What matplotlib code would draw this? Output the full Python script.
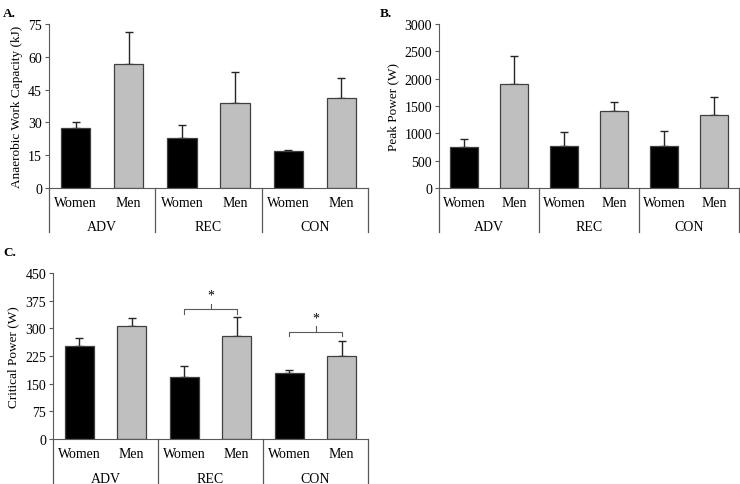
import matplotlib.pyplot as plt
import numpy as np

plt.rcParams['font.family'] = ['Liberation Serif', 'DejaVu Serif']
plt.rcParams['font.size'] = 10

#data
groups = ['ADV', 'REC', 'CON']
sexes = ['Women', 'Men']

awc_mean = [27.3, 56.7, 23.0, 39.1, 16.9, 41.2]
awc_sd = [2.8, 14.5, 5.6, 13.8, 0.6, 9.0]

pp_mean = [755, 1911, 761, 1406, 761, 1333]
pp_sd = [146, 511, 261, 164, 280, 328]

cp_mean = [253, 305, 167, 279, 178, 225]
cp_sd = [20, 22, 32, 52, 10, 42]

#brackets: (left bar, right bar, bracket y, drop, rise)
cp_sig = [(2, 3, 353, 14, 14), (4, 5, 290, 12, 15)]

W, H = 740, 485
fig = plt.figure(figsize=(W / 100, H / 100), dpi=100)


def make_axes(x0, x1, ytop, ybot):
    return fig.add_axes([x0 / W, 1 - ybot / H, (x1 - x0) / W, (ybot - ytop) / H])


def panel(ax, mean, sd, ymax, step, ylabel, letter, sep_len, lpos):
    x = np.arange(len(mean))
    colors = ['black', '#bfbfbf'] * 3
    ax.bar(x, mean, width=0.55, color=colors, edgecolor='#404040', linewidth=0.9, zorder=2)
    ax.errorbar(x, mean, yerr=[np.zeros(len(sd)), sd], fmt='none', ecolor='#262626',
                elinewidth=1, capsize=3, capthick=1, zorder=1)
    ax.set_xlim(-0.5, len(mean) - 0.5)
    ax.set_ylim(0, ymax)
    ax.set_yticks(np.arange(0, ymax + 1, step))
    ax.set_xticks([])
    ax.spines['top'].set_visible(False)
    ax.spines['right'].set_visible(False)
    ax.spines['left'].set_color('#595959')
    ax.spines['bottom'].set_color('#595959')
    ax.tick_params(axis='y', length=3, color='#595959', pad=2)
    ax.set_ylabel(ylabel, labelpad=4, fontsize=9.5)
    # category labels below
    trans = ax.get_xaxis_transform()
    for i in range(len(mean)):
        ax.text(x[i], -0.09, sexes[i % 2], transform=trans, ha='center', va='center')
    for g, name in enumerate(groups):
        ax.text(2 * g + 0.5, -0.235, name, transform=trans, ha='center', va='center')
    for b in [-0.5, 1.5, 3.5, 5.5]:
        ax.plot([b, b], [0, -sep_len], transform=trans, color='#595959', lw=0.9, clip_on=False)
    ax.text(lpos[0], lpos[1], letter, transform=ax.transAxes, fontweight='bold',
            ha='left', va='center', fontsize=9.5)


axA = make_axes(49, 368, 25, 189)
panel(axA, awc_mean, awc_sd, 75, 15, 'Anaerobic Work Capacity (kJ)', 'A.', 0.27, (-0.144, 1.07))

axB = make_axes(439, 739, 25, 189)
panel(axB, pp_mean, pp_sd, 3000, 500, 'Peak Power (W)', 'B.', 0.27, (-0.197, 1.07))

axC = make_axes(53, 368, 274, 440)
panel(axC, cp_mean, cp_sd, 450, 75, 'Critical Power (W)', 'C.', 0.30, (-0.159, 1.125))

for a, b, y, drop, rise in cp_sig:
    axC.plot([a, a, b, b], [y - drop, y, y, y - drop], color='#595959', lw=0.8)
    m = (a + b) / 2
    axC.plot([m, m], [y, y + rise], color='#595959', lw=0.8)
    axC.text(m, y + rise + 6, '*', ha='center', va='bottom')

fig.savefig('out.png', dpi=100)
